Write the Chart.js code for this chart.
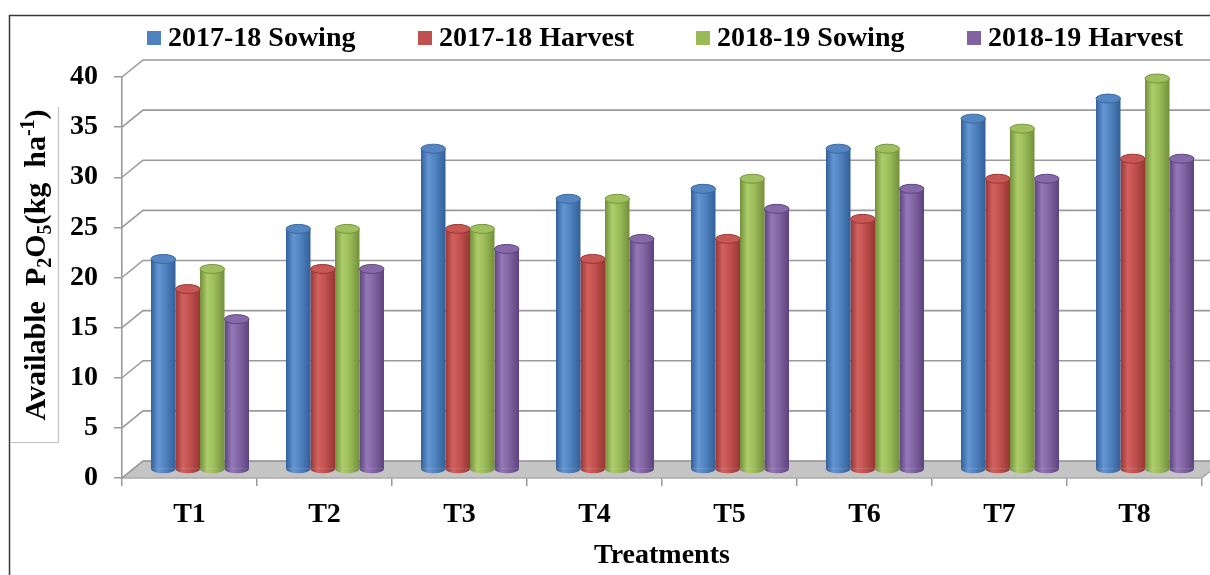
<!DOCTYPE html>
<html>
<head>
<meta charset="utf-8">
<script src="https://cdn.jsdelivr.net/npm/chart.js@4.4.1/dist/chart.umd.min.js"></script>
<style>
  html, body { margin: 0; padding: 0; background: #ffffff; }
  canvas { display: block; }
</style>
</head>
<body>
<canvas id="chart" width="1210" height="575"></canvas>
<script>
// Available P2O5 by treatment, two seasons, sowing and harvest
const treatments   = ['T1', 'T2', 'T3', 'T4', 'T5', 'T6', 'T7', 'T8'];
const sowing1718   = [21, 24, 32, 27, 28, 32, 35, 37];
const harvest1718  = [18, 20, 24, 21, 23, 25, 29, 31];
const sowing1819   = [20, 24, 24, 27, 29, 32, 34, 39];
const harvest1819  = [15, 20, 22, 23, 26, 28, 29, 31];
const seriesNames  = ['2017-18 Sowing', '2017-18 Harvest', '2018-19 Sowing', '2018-19 Harvest'];
const yTickValues  = [0, 5, 10, 15, 20, 25, 30, 35, 40];

// cylinder shading: base, dark edge, highlight, cap fill, cap rim
const palette = [
  { base: '#4F81BD', dark: '#325f98', light: '#6496d4', cap: '#5686c2', rim: '#3a68a3' },
  { base: '#C0504D', dark: '#973533', light: '#d3625f', cap: '#c65754', rim: '#9a3734' },
  { base: '#9BBB59', dark: '#728f3a', light: '#aecd6a', cap: '#a0c05f', rim: '#76953a' },
  { base: '#8064A2', dark: '#5c427f', light: '#9478b7', cap: '#866aa8', rim: '#5f4483' }
];

const SERIF = "'Liberation Serif', 'Times New Roman', serif";
const DEPTH_X = 21;   // back wall offset
const DEPTH_Y = 17;
const GRID = '#9a9a9a';

const scene3d = {
  id: 'scene3d',
  beforeDatasetsDraw(chart) {
    const { ctx, chartArea: a, scales: { y } } = chart;
    ctx.save();
    // floor
    const yb = y.getPixelForValue(0);
    ctx.beginPath();
    ctx.moveTo(a.left, yb);
    ctx.lineTo(a.right, yb);
    ctx.lineTo(a.right + DEPTH_X, yb - DEPTH_Y);
    ctx.lineTo(a.left + DEPTH_X, yb - DEPTH_Y);
    ctx.closePath();
    ctx.fillStyle = '#c4c4c4';
    ctx.fill();
    ctx.strokeStyle = '#9c9c9c';
    ctx.lineWidth = 1.2;
    ctx.stroke();
    // back wall gridlines with the side-wall diagonals
    ctx.strokeStyle = GRID;
    ctx.lineWidth = 1.6;
    yTickValues.forEach(v => {
      const py = y.getPixelForValue(v);
      ctx.beginPath();
      ctx.moveTo(a.left, py);
      ctx.lineTo(a.left + DEPTH_X, py - DEPTH_Y);
      ctx.lineTo(chart.width + 40, py - DEPTH_Y);
      ctx.stroke();
    });
    ctx.restore();

    // bars sit half way into the depth
    ctx.save();
    ctx.translate(DEPTH_X / 2, -DEPTH_Y / 2);
    chart.data.datasets.forEach((ds, di) => {
      const p = palette[di];
      chart.getDatasetMeta(di).data.forEach(el => {
        const x0 = el.x - el.width / 2, x1 = el.x + el.width / 2;
        const g = ctx.createLinearGradient(x0, 0, x1, 0);
        g.addColorStop(0, p.dark);
        g.addColorStop(0.3, p.light);
        g.addColorStop(0.6, p.base);
        g.addColorStop(1, p.dark);
        el.options = Object.assign({}, el.options, { backgroundColor: g });
      });
    });
  },
  afterDatasetsDraw(chart) {
    const { ctx } = chart;
    chart.data.datasets.forEach((ds, di) => {
      const p = palette[di];
      chart.getDatasetMeta(di).data.forEach(el => {
        const rx = el.width / 2, ry = 4.5;
        // rounded bottom
        ctx.beginPath();
        ctx.ellipse(el.x, el.base, rx, ry, 0, 0, Math.PI);
        ctx.fillStyle = el.options.backgroundColor;
        ctx.fill();
        // top cap
        ctx.beginPath();
        ctx.ellipse(el.x, el.y, rx, ry, 0, 0, Math.PI * 2);
        ctx.fillStyle = p.cap;
        ctx.fill();
        ctx.strokeStyle = p.rim;
        ctx.lineWidth = 1;
        ctx.stroke();
      });
    });
    ctx.restore();
  }
};

const frameAndLabels = {
  id: 'frameAndLabels',
  afterDraw(chart) {
    const { ctx } = chart;
    ctx.save();
    // outer frame
    ctx.strokeStyle = '#3a3a3a';
    ctx.lineWidth = 1.5;
    ctx.beginPath();
    ctx.moveTo(9.5, chart.height + 2);
    ctx.lineTo(9.5, 15.5);
    ctx.lineTo(chart.width + 2, 15.5);
    ctx.stroke();

    // legend
    const legendX = [147, 418, 696, 967];
    ctx.font = `bold 28px ${SERIF}`;
    ctx.textBaseline = 'alphabetic';
    ctx.textAlign = 'left';
    chart.data.datasets.forEach((ds, i) => {
      ctx.fillStyle = palette[i].base;
      ctx.fillRect(legendX[i], 31, 14, 14);
      ctx.fillStyle = '#000';
      ctx.fillText(ds.label, legendX[i] + 21, 46);
    });

    // y-axis title box edge
    ctx.strokeStyle = '#c2c2c2';
    ctx.lineWidth = 1.2;
    ctx.beginPath();
    ctx.moveTo(58.5, 107);
    ctx.lineTo(58.5, 442.5);
    ctx.lineTo(10, 442.5);
    ctx.stroke();

    // y-axis title with sub/superscripts
    const size = 30, small = 20;
    const parts = [
      { t: 'Available  P', s: size, dy: 0 },
      { t: '2', s: small, dy: 6 },
      { t: 'O', s: size, dy: 0 },
      { t: '5', s: small, dy: 6 },
      { t: '(kg  ha', s: size, dy: 0 },
      { t: '-1', s: small, dy: -11 },
      { t: ')', s: size, dy: 0 }
    ];
    let total = 0;
    parts.forEach(pt => { ctx.font = `bold ${pt.s}px ${SERIF}`; pt.w = ctx.measureText(pt.t).width; total += pt.w; });
    ctx.translate(45, 265);
    ctx.rotate(-Math.PI / 2);
    ctx.fillStyle = '#000';
    let cx = -total / 2;
    parts.forEach(pt => {
      ctx.font = `bold ${pt.s}px ${SERIF}`;
      ctx.fillText(pt.t, cx, pt.dy);
      cx += pt.w;
    });
    ctx.restore();
  }
};

const datasets = [sowing1718, harvest1718, sowing1819, harvest1819].map((vals, i) => ({
  label: seriesNames[i],
  data: vals,
  backgroundColor: palette[i].base,
  borderWidth: 0,
  barPercentage: 1.0,
  categoryPercentage: 0.726,
  clip: false
}));

new Chart(document.getElementById('chart'), {
  type: 'bar',
  data: { labels: treatments, datasets },
  plugins: [scene3d, frameAndLabels],
  options: {
    responsive: false,
    devicePixelRatio: 1,
    animation: false,
    events: [],
    layout: { padding: { top: 77, left: 0, right: 8, bottom: 0 } },
    plugins: {
      legend: { display: false },
      tooltip: { enabled: false },
      title: { display: false }
    },
    scales: {
      x: {
        afterFit(scale) { scale.height = 97; },
        grid: { display: true, drawOnChartArea: false, drawTicks: true, tickLength: 8, color: GRID, lineWidth: 1.5, offset: true },
        border: { display: true, color: '#9c9c9c', width: 1.2 },
        ticks: { color: '#000', font: { family: SERIF, size: 28, weight: 'bold' }, padding: 12 },
        title: { display: true, text: 'Treatments', color: '#000', font: { family: SERIF, size: 28, weight: 'bold' }, padding: { top: 0, bottom: 2 } }
      },
      y: {
        min: 0,
        max: 40,
        afterFit(scale) { scale.width = 122; },
        afterBuildTicks(scale) { scale.ticks = yTickValues.map(v => ({ value: v })); },
        grid: { display: true, drawOnChartArea: false, drawTicks: true, tickLength: 8, color: GRID, lineWidth: 1.5 },
        border: { display: true, color: GRID, width: 1.6 },
        ticks: { color: '#000', font: { family: SERIF, size: 28, weight: 'bold' }, padding: 16 }
      }
    }
  }
});
</script>
</body>
</html>
